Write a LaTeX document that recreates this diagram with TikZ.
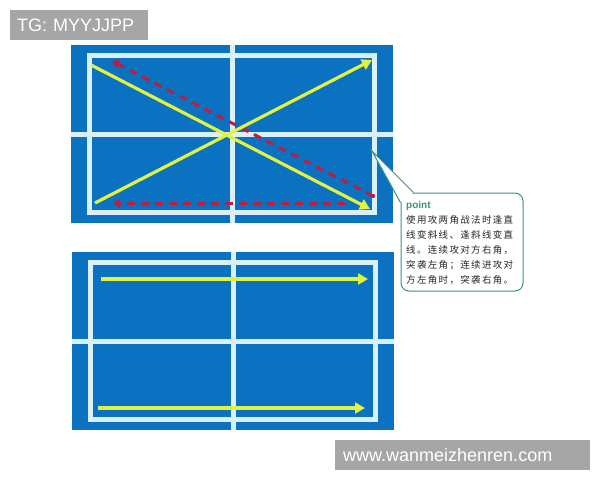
\documentclass[tikz,border=0pt]{standalone}
\usepackage{fontspec}
\setmainfont{Liberation Sans}
\newfontfamily\cjkfont[LetterSpace=14]{Noto Sans CJK SC}
\usetikzlibrary{arrows.meta, calc, positioning}
\definecolor{courtblue}{RGB}{10,114,192}
\definecolor{courtline}{RGB}{218,240,248}
\definecolor{shotyellow}{RGB}{226,242,64}
\definecolor{shotred}{RGB}{190,30,62}
\definecolor{notegreen}{RGB}{58,150,118}
\definecolor{tagray}{RGB}{166,166,166}
\tikzset{
    shot/.style={draw=shotyellow, line width=3.2pt,
        -{Triangle[length=10pt, width=11pt]}},
    reply/.style={draw=shotred, line width=3pt, dash pattern=on 8pt off 6pt,
        -{Triangle[length=7pt, width=9pt]}},
    tagbox/.style={fill=tagray, text=white, anchor=north west, inner sep=0pt,
        font=\fontsize{18}{18}\selectfont, minimum height=30pt, text depth=0pt},
    court/.pic={
        \fill[courtblue] (0, 0) rectangle (322, 178);
        \draw[courtline, line width=4.5pt] (18.5, 10.5) rectangle (303.5, 167.5);
        \draw[courtline, line width=5pt] (0, 89.5) -- (322, 89.5); % Net line
        \draw[courtline, line width=5pt] (161, 0) -- (161, 178); % Centre line
    },
}

\begin{document}
\begin{tikzpicture}[x=1pt, y=-1pt]
    \useasboundingbox (0, 0) rectangle (600, 480);

    \node[tagbox, minimum width=138pt, text width=132pt, align=left]
        (tg) at (10, 10) {\hspace*{4pt}TG: MYYJJPP};

    \pic at (71, 45) {court}; % Upper court
    \pic at (72, 252) {court}; % Lower court

    % Upper court: diagonals and returns
    \coordinate (ul) at (91, 65);   \coordinate (lr) at (370, 209);
    \coordinate (ll) at (95, 203);  \coordinate (ur) at (372, 60);
    \coordinate (rs) at (373, 196); \coordinate (re) at (112, 61);
    \coordinate (hs) at (345, 203); \coordinate (he) at (113, 203);

    \draw[reply] (rs) -- (re);
    \draw[reply] (hs) -- (he);
    \fill[shotred] (rs) circle (2.2pt);
    \draw[shot] (ul) -- (lr);
    \draw[shot] (ll) -- (ur);

    % Lower court: straight lines
    \coordinate (ts) at (101, 279); \coordinate (te) at (368, 279);
    \coordinate (bs) at (98, 408);  \coordinate (be) at (365, 408);
    \draw[shot] (ts) -- (te);
    \draw[shot] (bs) -- (be);

    % Note with pointer
    \node[draw=notegreen, line width=1pt, fill=white, rounded corners=8pt,
        minimum width=122pt, minimum height=98pt, inner sep=0pt]
        (note) at (462, 242) {};
    \node[anchor=north west, inner sep=0pt, align=left,
        font=\cjkfont\fontsize{9.5}{15}\selectfont, text=black!85]
        (txt) at (406, 201) {{\fontspec{Liberation Sans}\bfseries
        \fontsize{10}{10}\selectfont\color{notegreen}point}\\
        使用攻两角战法时逢直\\ 线变斜线、逢斜线变直\\ 线。连续攻对方右角，\\
        突袭左角；连续进攻对\\ 方左角时，突袭右角。};
    \coordinate (tip) at (372, 151);
    \coordinate (pa) at ($(note.north west) + (0, 10)$);
    \coordinate (pb) at ($(note.north west) + (13, 0)$);
    \fill[white] (pa) -- (tip) -- (pb) -- ($(note.north west) + (6, 6)$) -- cycle;
    \draw[notegreen, line width=1pt] (pa) -- (tip) -- (pb);

    \node[tagbox, minimum width=255pt, text width=249pt, align=left]
        (url) at (335, 440) {\hspace*{5pt}www.wanmeizhenren.com};
\end{tikzpicture}
\end{document}
